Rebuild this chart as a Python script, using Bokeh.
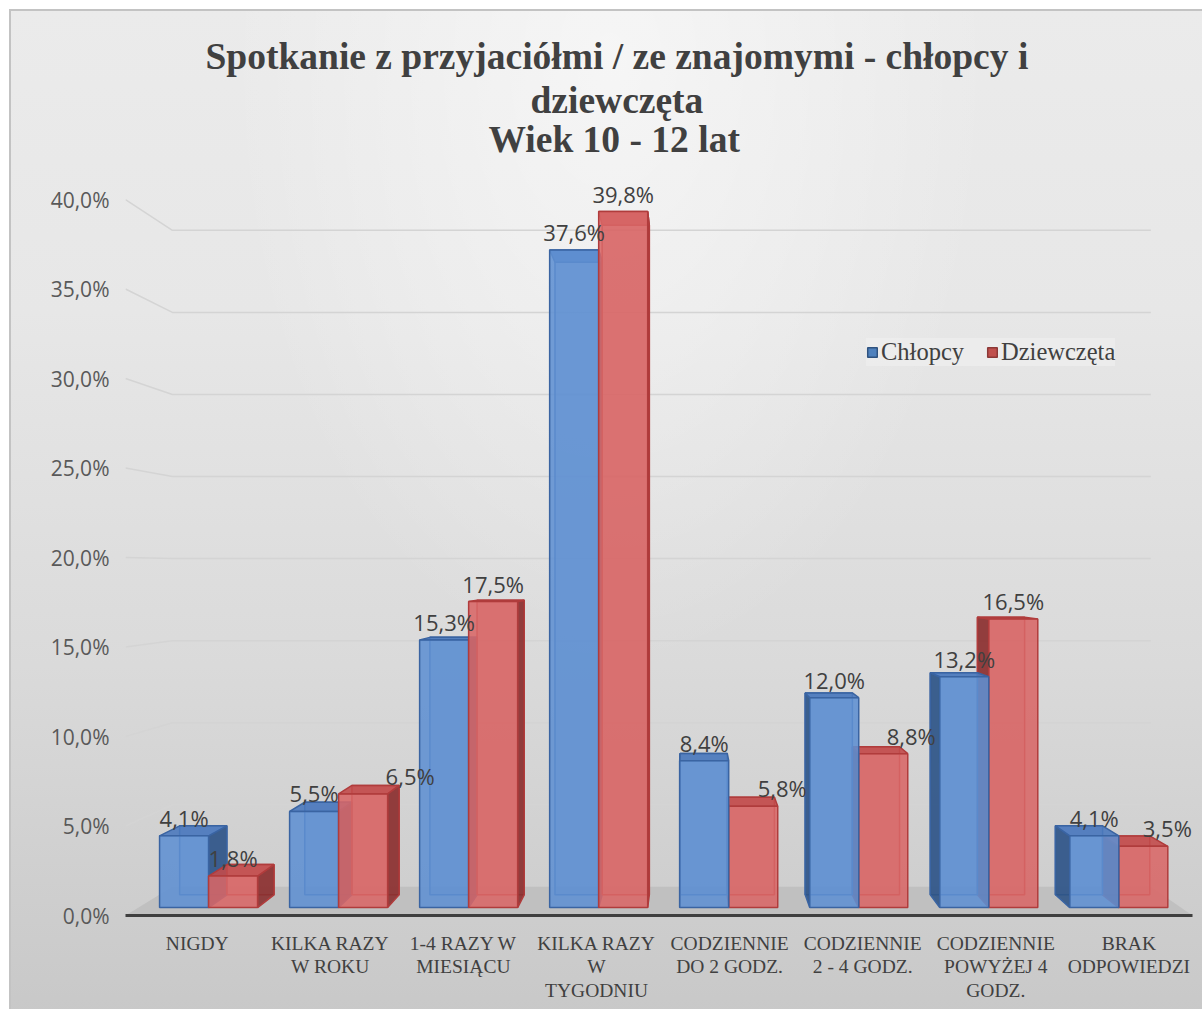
import numpy as np
from bokeh.plotting import figure
from bokeh.models import (ColumnDataSource, FixedTicker, Range1d, Title, Legend, LegendItem)
from bokeh.core.properties import value
from bokeh.embed import file_html
from bokeh.resources import INLINE

# ---------------- data ----------------
categories = ["NIGDY", "KILKA RAZY\nW ROKU", "1-4 RAZY W\nMIESIĄCU", "KILKA RAZY\nW\nTYGODNIU",
              "CODZIENNIE\nDO 2 GODZ.", "CODZIENNIE\n2 - 4 GODZ.", "CODZIENNIE\nPOWYŻEJ 4\nGODZ.",
              "BRAK\nODPOWIEDZI"]
chlopcy = [4.1, 5.5, 15.3, 37.6, 8.4, 12.0, 13.2, 4.1]
dziewczeta = [1.8, 6.5, 17.5, 39.8, 5.8, 8.8, 16.5, 3.5]
series_names = ["Chłopcy", "Dziewczęta"]
y_ticks = [0, 5, 10, 15, 20, 25, 30, 35, 40]
title_lines = ["Spotkanie z przyjaciółmi / ze znajomymi - chłopcy i", "dziewczęta", "Wiek 10 - 12 lat"]

# label nudges (screen px) for the data labels of each series
label_dx_blue = [0, 0, 0, 0, 0, 0, 0, 0]
label_dx_red = [0, 47, 0, 0, 29, 28, 0, 24]

# ---------------- styles / geometry ----------------
X0, X1 = -0.539, 7.478
Y0, Y1 = 0.0, 41.9
CV, YV = 3.706, 19.27          # vanishing point (data units of the axis plane)
S_FRONT, S_BACK, S_WALL = 0.977, 0.94, 0.917
BAR_W = 0.377

BLUE = dict(front="#5f8fd2", top="#4b79bd", side="#2f5486", line="#3a64a2")
RED = dict(front="#d86666", top="#c24b4b", side="#8a3030", line="#b03c3c")


def proj(x, y, s):
    return CV + (x - CV) * s, YV + (y - YV) * s


def quad(pts, s):
    xs, ys = [], []
    for (x, y) in pts:
        px, py = proj(x, y, s)
        xs.append(px)
        ys.append(py)
    return xs, ys


p = figure(width=1202, height=1009, output_backend="svg", toolbar_location=None,
           x_range=Range1d(X0, X1), y_range=Range1d(Y0, Y1),
           min_border_left=125, min_border_right=10, min_border_bottom=94, min_border_top=165)
p.border_fill_alpha = 0
p.background_fill_alpha = 0
p.outline_line_color = None
p.xgrid.visible = False
p.ygrid.visible = False
p.styles = {"background": (
    "linear-gradient(#c3c3c3, #c3c3c3) 9px 9px / 100% 2px no-repeat, "
    "linear-gradient(#c3c3c3, #c3c3c3) 9px 9px / 2px 100% no-repeat, "
    "radial-gradient(ellipse at 50% 5%, rgba(255,255,255,0.55) 0%, rgba(255,255,255,0) 45%) 9px 9px / 100% 100% no-repeat, "
    "linear-gradient(180deg, #ebebeb 0%, #e7e7e7 30%, #dadada 65%, #c8c8c8 100%) 9px 9px / 100% 100% no-repeat, "
    "white")}

# titles (added inner-most first), left-aligned with offsets from the frame's left edge
title_offsets = [363, 405, 80]
title_standoffs = [12, -21, 24]
for line, off, so in zip(reversed(title_lines), title_offsets, title_standoffs):
    t = Title(text=line, align="left", offset=off, text_font="Liberation Serif", text_font_size="37.5px",
              text_font_style="bold", text_color="#404040", standoff=so)
    p.add_layout(t, "above")

# floor
fx0, fy0 = proj(X0, 0, S_WALL)
fx1, _ = proj(X1, 0, S_WALL)
p.patch([X0, X1, fx1, fx0], [0, 0, fy0, fy0], fill_color="#c0c0c0", line_color=None)

# back-wall gridlines with diagonal from the axis
gxs, gys = [], []
for v in y_ticks[1:]:
    bx0, by = proj(X0, v, S_WALL)
    bx1, _ = proj(X1, v, S_WALL)
    gxs.append([X0, bx0, bx1])
    gys.append([v, by, by])
p.multi_line(gxs, gys, line_color="#d4d4d4", line_width=1.5)

# 3D bars, painted from the outside towards the vanishing point
bars = []
for i in range(len(categories)):
    bars.append((i - BAR_W, i, chlopcy[i], BLUE))
    bars.append((i, i + BAR_W, dziewczeta[i], RED))
bars.sort(key=lambda b: -abs((b[0] + b[1]) / 2 - CV))

fxs, fys, fcol, lcol, falpha = [], [], [], [], []


def add(xs, ys, fc, lc, a):
    fxs.append(xs); fys.append(ys); fcol.append(fc); lcol.append(lc); falpha.append(a)


for xl, xr, v, c in bars:
    xs, ys = quad([(xl, 0), (xr, 0), (xr, v), (xl, v)], S_BACK)      # back face
    add(xs, ys, c["front"], c["line"], 0.35)
    xe = xr if (xl + xr) / 2 < CV else xl                              # side face
    xa, ya = quad([(xe, 0), (xe, v)], S_FRONT)
    xb, yb = quad([(xe, v), (xe, 0)], S_BACK)
    add(xa + xb, ya + yb, c["side"], c["line"], 0.9)
    xa, ya = quad([(xl, v), (xr, v)], S_FRONT)                         # top face
    xb, yb = quad([(xr, v), (xl, v)], S_BACK)
    add(xa + xb, ya + yb, c["top"], c["line"], 0.9)
    xs, ys = quad([(xl, 0), (xr, 0), (xr, v), (xl, v)], S_FRONT)      # front face
    add(xs, ys, c["front"], c["line"], 0.88)

src = ColumnDataSource(dict(xs=fxs, ys=fys, fc=fcol, lc=lcol, a=falpha))
p.patches("xs", "ys", source=src, fill_color="fc", line_color="lc", fill_alpha="a", line_width=1.5)

# data labels
lx, ly, lt, ldx = [], [], [], []
for i in range(len(categories)):
    for xl, xr, v, dx in ((i - BAR_W, i, chlopcy[i], label_dx_blue[i]),
                          (i, i + BAR_W, dziewczeta[i], label_dx_red[i])):
        px, py = proj((xl + xr) / 2, v, S_FRONT)
        lx.append(px); ly.append(py); lt.append(f"{v:.1f}%".replace(".", ",")); ldx.append(dx)
lsrc = ColumnDataSource(dict(x=lx, y=ly, t=lt, dx=ldx))
p.text("x", "y", text="t", source=lsrc, x_offset="dx", y_offset=-18, text_align="center",
       text_baseline="alphabetic", text_font=value("Open Sans"), text_font_size="22px",
       text_color="#404040")

# legend (invisible one-row renderers provide the swatches)
rb = p.quad(left=[np.nan], right=[np.nan], top=[np.nan], bottom=[np.nan],
            fill_color="#4f81bd", line_color="#2f527f", line_width=1.5)
rr = p.quad(left=[np.nan], right=[np.nan], top=[np.nan], bottom=[np.nan],
            fill_color="#c0504d", line_color="#8c3836", line_width=1.5)
legend = Legend(items=[LegendItem(label=series_names[0], renderers=[rb]),
                       LegendItem(label=series_names[1], renderers=[rr])],
                orientation="horizontal", location=(741, 549),
                glyph_width=12, glyph_height=12, label_standoff=3, spacing=22,
                padding=12, margin=0,
                label_text_font="Liberation Serif", label_text_font_size="24.5px",
                label_text_color="#404040",
                background_fill_color="#f0f0f0", background_fill_alpha=0.6,
                border_line_color=None)
p.add_layout(legend)

# axes
p.yaxis.ticker = FixedTicker(ticks=y_ticks)
p.yaxis.major_label_overrides = {v: f"{v:.1f}%".replace(".", ",") for v in y_ticks}
p.yaxis.axis_line_color = None
p.yaxis.major_tick_line_color = None
p.yaxis.minor_tick_line_color = None
p.yaxis.major_tick_out = 0
p.yaxis.major_tick_in = 0
p.yaxis.major_label_standoff = 16
p.yaxis.major_label_text_font = "Open Sans"
p.yaxis.major_label_text_font_size = "21px"
p.yaxis.major_label_text_color = "#595959"

p.xaxis.ticker = FixedTicker(ticks=list(range(len(categories))))
p.xaxis.major_label_overrides = {i: c for i, c in enumerate(categories)}
p.xaxis.axis_line_color = "#3f3f3f"
p.xaxis.axis_line_width = 3
p.xaxis.major_tick_line_color = None
p.xaxis.minor_tick_line_color = None
p.xaxis.major_tick_out = 0
p.xaxis.major_tick_in = 0
p.xaxis.major_label_standoff = 17
p.xaxis.major_label_text_font = "Liberation Serif"
p.xaxis.major_label_text_font_size = "19.5px"
p.xaxis.major_label_text_line_height = 1.12
p.xaxis.major_label_text_color = "#404040"

open("out.html", "w").write(file_html(p, INLINE))
